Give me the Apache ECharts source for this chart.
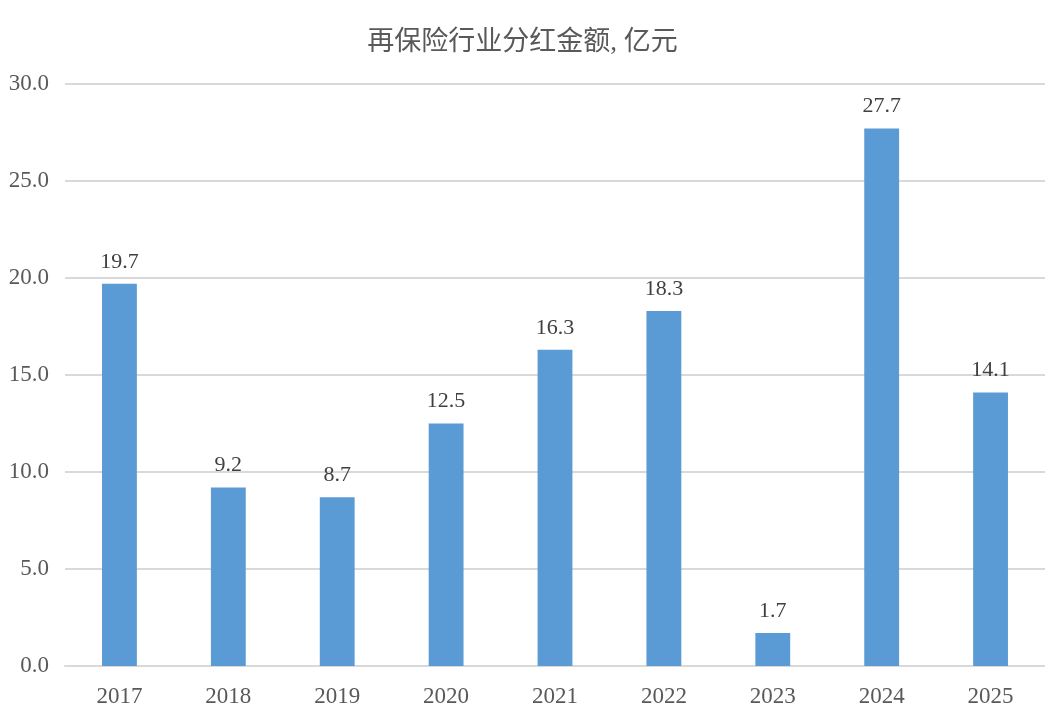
<!DOCTYPE html>
<html>
<head>
<meta charset="utf-8">
<script src="https://cdn.jsdelivr.net/npm/echarts@6/dist/echarts.min.js"></script>
<style>
html,body{margin:0;padding:0;background:#fff;}
#chart{width:1045px;height:726px;}
</style>
</head>
<body>
<div id="chart"></div>
<script>
var years = ['2017','2018','2019','2020','2021','2022','2023','2024','2025'];
var dividends = [19.7, 9.2, 8.7, 12.5, 16.3, 18.3, 1.7, 27.7, 14.1];

var myChart = echarts.init(document.getElementById('chart'));
var font = '"Liberation Serif", "Times New Roman", "Noto Sans CJK SC", serif';
var option = {
    animation: false,
    title: {
        text: '再保险行业分红金额, 亿元',
        left: 'center',
        top: 24,
        textStyle: {color: '#595959', fontSize: 27, fontWeight: 'normal', fontFamily: font}
    },
    grid: {left: 65, width: 984, top: 84, bottom: 60},
    xAxis: {
        type: 'category',
        data: years,
        axisLine: {lineStyle: {color: '#d9d9d9', width: 2}},
        axisTick: {show: false},
        axisLabel: {color: '#595959', fontSize: 23, fontFamily: font, margin: 19}
    },
    yAxis: {
        type: 'value',
        min: 0,
        max: 30,
        interval: 5,
        axisLine: {show: false},
        axisTick: {show: false},
        splitLine: {lineStyle: {color: '#d9d9d9', width: 2}},
        axisLabel: {
            color: '#595959', fontSize: 23, fontFamily: font, margin: 16,
            formatter: function(v){ return v.toFixed(1); }
        }
    },
    series: [{
        type: 'bar',
        data: dividends,
        barWidth: '32%',
        itemStyle: {color: '#5b9bd5'},
        label: {
            show: true,
            position: 'top',
            distance: 11,
            color: '#404040',
            fontSize: 22,
            fontFamily: font,
            formatter: function(p){ return p.value.toFixed(1); }
        }
    }]
};
myChart.setOption(option);
</script>
</body>
</html>
